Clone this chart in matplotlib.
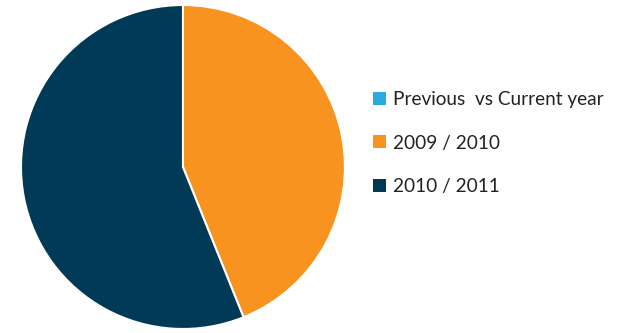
import matplotlib.pyplot as plt
from matplotlib.patches import Patch

labels = ['Previous  vs Current year', '2009 / 2010', '2010 / 2011']
values = [0.0, 43.9, 56.1]
colors = ['#29abe2', '#f7931e', '#003a57']

fig = plt.figure(figsize=(6.23, 3.33), dpi=100)
ax = fig.add_axes([0.0337, 0.012, 0.520, 0.973])
ax.pie(values, colors=colors, startangle=90, counterclock=False,
       wedgeprops=dict(edgecolor='white', linewidth=1.5))
ax.set_xlim(-1.0, 1.0)
ax.set_ylim(-1.0, 1.0)
ax.set_aspect('equal')

handles = [Patch(facecolor=c, edgecolor='none') for c in colors]
leg = fig.legend(handles, labels, loc='upper left', bbox_to_anchor=(0.587, 0.75),
                 frameon=False, prop={'family': 'Lato', 'size': 13.7},
                 handlelength=0.65, handleheight=0.65, handletextpad=0.4,
                 labelspacing=1.4, borderaxespad=0)
for t in leg.get_texts():
    t.set_color('#222222')

fig.savefig('out.png', dpi=100)
